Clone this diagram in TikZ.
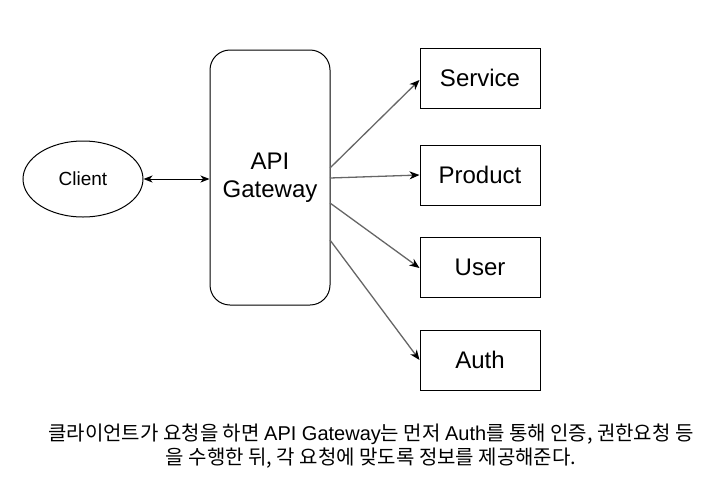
\documentclass[tikz,border=0pt]{standalone}
\usepackage{fontspec}
\setmainfont{Liberation Sans}
\newfontfamily\kr{Noto Sans CJK KR}
\usetikzlibrary{arrows.meta,shapes.geometric}
\begin{document}
\begin{tikzpicture}[x=1pt,y=-1pt,
  box/.style={draw=black,line width=1pt,minimum width=120pt,minimum height=60pt,inner sep=0pt,font=\fontsize{24}{28}\selectfont},
  conn/.style={draw=black!60,line width=1.3pt,-{Stealth[length=10pt,width=8pt,inset=3pt,black]}},
  bidi/.style={draw=black,line width=1pt,{Stealth[length=9pt,width=7pt,inset=2.5pt]}-{Stealth[length=9pt,width=7pt,inset=2.5pt]}}]
\useasboundingbox (0,0) rectangle (727,488);
\node[draw=black,line width=1pt,ellipse,minimum width=120pt,minimum height=76pt,inner sep=0pt,font=\fontsize{19}{22}\selectfont] (client) at (83,179) {Client};
\node[draw=black,line width=1pt,rounded corners=20pt,minimum width=120pt,minimum height=255pt,inner sep=0pt,align=center,font=\fontsize{24}{28}\selectfont] (gw) at (270,177.5) {API\\Gateway};
\node[box] (service) at (480,78) {Service};
\node[box] (product) at (480,175) {Product};
\node[box] (user) at (480,267) {User};
\node[box] (auth) at (480,360) {Auth};
\draw[bidi] (client.east) -- (gw.west |- client.east);
\coordinate (s1) at (330,168);
\coordinate (s2) at (330,178);
\coordinate (s3) at (330,203);
\coordinate (s4) at (330,240);
\draw[conn] (s1) -- (service.west |- 0,80);
\draw[conn] (s2) -- (product.west |- 0,175);
\draw[conn] (s3) -- (user.west |- 0,268);
\draw[conn] (s4) -- (auth.west |- 0,360);
\node[align=center,font=\fontsize{20}{24}\selectfont] (caption) at (371,446) {{\kr 클라이언트가 요청을 하면 }API Gateway{\kr 는 먼저 }Auth{\kr 를 통해 인증, 권한요청 등}\\{\kr 을 수행한 뒤, 각 요청에 맞도록 정보를 제공해준다.}};
\end{tikzpicture}
\end{document}
